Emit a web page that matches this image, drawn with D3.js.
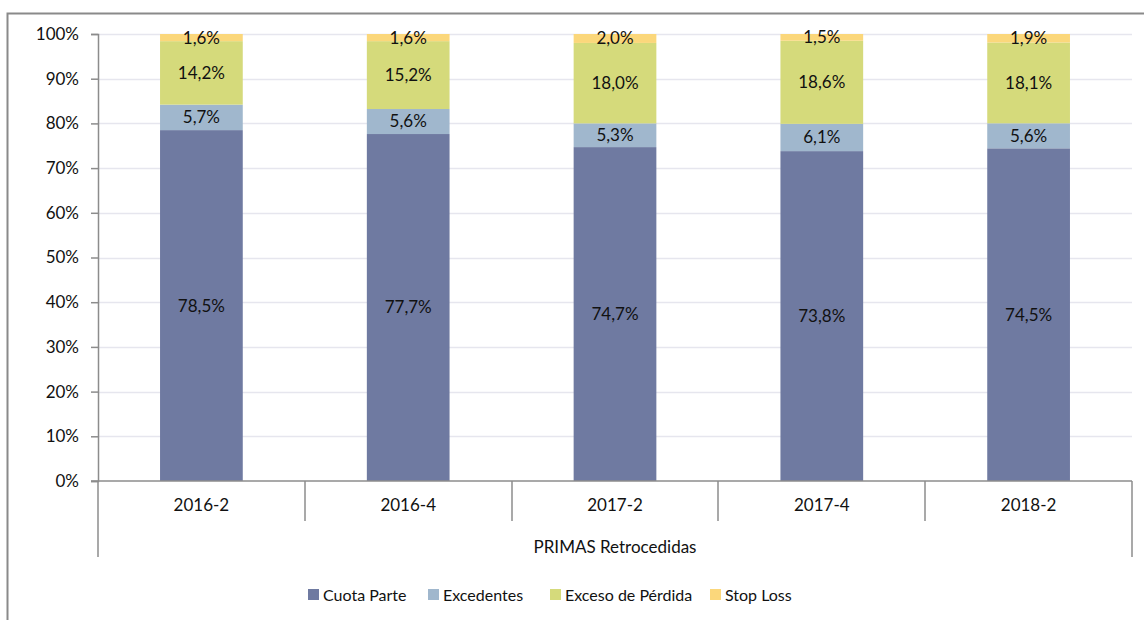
<!DOCTYPE html>
<html>
<head>
<meta charset="utf-8">
<script src="https://cdn.jsdelivr.net/npm/d3@7"></script>
<style>
  body { margin: 0; background: #fff; }
  svg text { font-family: Lato, "Open Sans", sans-serif; fill: #111; }
</style>
</head>
<body>
<svg id="chart" width="1144" height="620"></svg>
<script>
// data
var categories = ["2016-2", "2016-4", "2017-2", "2017-4", "2018-2"];
var seriesNames = ["Cuota Parte", "Excedentes", "Exceso de Pérdida", "Stop Loss"];
var cuotaParte = [78.5, 77.7, 74.7, 73.8, 74.5];
var excedentes = [5.7, 5.6, 5.3, 6.1, 5.6];
var excesoPerdida = [14.2, 15.2, 18.0, 18.6, 18.1];
var stopLoss = [1.6, 1.6, 2.0, 1.5, 1.9];
var colors = ["#6F7AA1", "#A0B7CD", "#D5DA7B", "#FBD77B"];
var groupTitle = "PRIMAS Retrocedidas";

var svg = d3.select("#chart");
var plotLeft = 98, plotRight = 1132, plotTop = 34, plotBottom = 481;
var axisColor = "#8c8c8c";

// outer frame
svg.append("rect").attr("x", 7.5).attr("y", 13.5).attr("width", 1150).attr("height", 620)
  .attr("fill", "none").attr("stroke", "#8a8a8a").attr("stroke-width", 2);

var rows = categories.map(function(c, i) {
  var vals = [cuotaParte[i], excedentes[i], excesoPerdida[i], stopLoss[i]];
  var total = d3.sum(vals);
  var r = { cat: c, raw: vals };
  seriesNames.forEach(function(s, j) { r[s] = vals[j] / total; });
  return r;
});

var x = d3.scaleBand().domain(categories).range([plotLeft, plotRight]).paddingInner(0.6).paddingOuter(0.3);
var y = d3.scaleLinear().domain([0, 1]).range([plotBottom, plotTop]);

// gridlines
svg.append("g").selectAll("line").data(d3.range(1, 11).map(function(d) { return d / 10; })).enter().append("line")
  .attr("x1", plotLeft).attr("x2", plotRight)
  .attr("y1", function(d) { return Math.round(y(d)) + 0.5; })
  .attr("y2", function(d) { return Math.round(y(d)) + 0.5; })
  .attr("stroke", "#e6e6ee").attr("stroke-width", 1.5);

var stack = d3.stack().keys(seriesNames)(rows);

var layers = svg.append("g").selectAll("g").data(stack).enter().append("g")
  .attr("fill", function(d, i) { return colors[i]; });

layers.selectAll("rect").data(function(d) { return d; }).enter().append("rect")
  .attr("x", function(d) { return x(d.data.cat); })
  .attr("width", x.bandwidth())
  .attr("y", function(d) { return y(d[1]); })
  .attr("height", function(d) { return y(d[0]) - y(d[1]); });

// value labels
stack.forEach(function(layer, j) {
  svg.append("g").selectAll("text").data(layer).enter().append("text")
    .attr("x", function(d) { return x(d.data.cat) + x.bandwidth() / 2; })
    .attr("y", function(d) { return (y(d[0]) + y(d[1])) / 2; })
    .attr("text-anchor", "middle").attr("dy", "0.35em")
    .style("font-size", "17px")
    .text(function(d) { return d.data.raw[j].toFixed(1).replace(".", ",") + "%"; });
});

// y axis
var yAxis = svg.append("g").attr("transform", "translate(" + plotLeft + ",0)")
  .call(d3.axisLeft(y).tickValues(d3.range(0, 11).map(function(d) { return d / 10; }))
    .tickFormat(d3.format(".0%")).tickSize(7).tickPadding(12));
yAxis.select(".domain").attr("stroke", axisColor).attr("stroke-width", 1.5);
yAxis.selectAll(".tick line").attr("stroke", axisColor).attr("stroke-width", 1.5);
yAxis.selectAll("text").style("font-size", "17px").attr("fill", "#111");

// x axis line
svg.append("line").attr("x1", plotLeft - 7).attr("x2", plotRight).attr("y1", plotBottom).attr("y2", plotBottom)
  .attr("stroke", axisColor).attr("stroke-width", 1.5);

// category separators
var bounds = categories.map(function(c) { return x(c) - x.step() * 0.3; });
bounds.push(plotRight);
svg.append("g").selectAll("line").data(bounds).enter().append("line")
  .attr("x1", function(d) { return Math.round(d); }).attr("x2", function(d) { return Math.round(d); })
  .attr("y1", plotBottom)
  .attr("y2", function(d, i) { return (i === 0 || i === bounds.length - 1) ? 557 : 521; })
  .attr("stroke", axisColor).attr("stroke-width", 1.5);

svg.append("g").selectAll("text").data(categories).enter().append("text")
  .attr("x", function(d) { return x(d) + x.bandwidth() / 2; })
  .attr("y", 505).attr("dy", "0.35em").attr("text-anchor", "middle")
  .style("font-size", "17px").text(function(d) { return d; });

svg.append("text").attr("x", (plotLeft + plotRight) / 2).attr("y", 547).attr("dy", "0.35em")
  .attr("text-anchor", "middle").style("font-size", "17px").text(groupTitle);

// legend
var legendX = [308, 428, 550, 710];
var legend = svg.append("g").selectAll("g").data(seriesNames).enter().append("g")
  .attr("transform", function(d, i) { return "translate(" + legendX[i] + ",595)"; });
legend.append("rect").attr("x", 0).attr("y", -6).attr("width", 11).attr("height", 11)
  .attr("fill", function(d, i) { return colors[i]; });
legend.append("text").attr("x", 15).attr("y", 0).attr("dy", "0.35em")
  .style("font-size", "16px").text(function(d) { return d; });
</script>
</body>
</html>
